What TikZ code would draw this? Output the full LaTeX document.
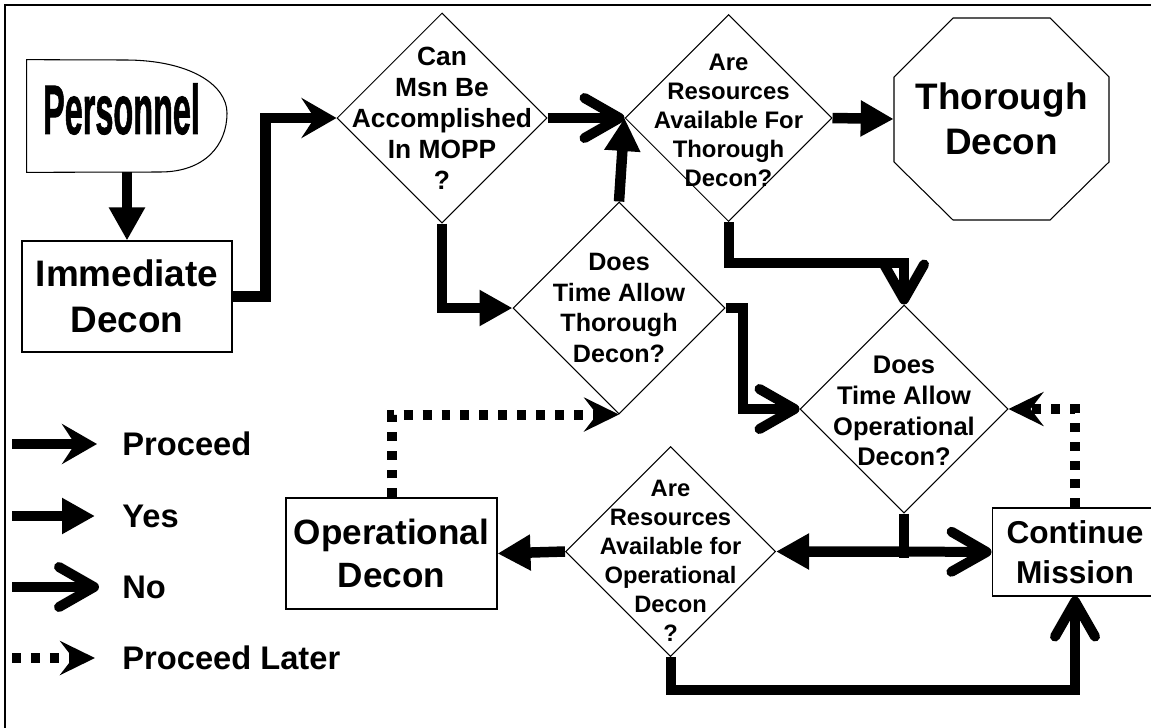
\documentclass[tikz,border=0pt]{standalone}
\usepackage{fontspec}
\setmainfont{Liberation Sans}
\newfontfamily\persfont{Liberation Sans}[BoldFeatures={FakeBold=1.5}]
\usepackage{graphicx}
\usepackage{tikz}
\usetikzlibrary{shapes.geometric,arrows.meta}

\tikzset{
  box/.style={draw, line width=0.6pt, rectangle, inner sep=0pt, align=center},
  decide/.style={draw, line width=0.6pt, diamond, aspect=1, minimum width=4.2cm, minimum height=4.2cm, inner sep=0pt},
  qtext/.style={align=center, inner sep=0pt, font=\bfseries\fontsize{13.6}{16.5}\selectfont},
  pname/.style={inner sep=0pt, font=\persfont\bfseries\fontsize{39.7}{40}\selectfont},
  legend/.style={inner sep=0pt, anchor=west, font=\bfseries\fontsize{18.6}{20}\selectfont},
  yes/.style={line width=0.21cm, -{Triangle[length=0.66cm, width=0.68cm]}},
  no/.style={line width=0.2cm, -{Straight Barb[length=0.7cm, width=0.8cm, round]}},
  proceed/.style={line width=0.21cm, -{Stealth[length=0.7cm, width=0.8cm, inset=0.26cm]}},
  later/.style={line width=0.2cm, dash pattern=on 0.18cm off 0.2cm, -{Stealth[length=0.7cm, width=0.68cm, inset=0.26cm]}}
}

\begin{document}
\begin{tikzpicture}[x=0.02cm, y=-0.02cm]
\useasboundingbox (0,0) rectangle (1151,727);

% frame (only top and left show)
\draw[line width=0.04cm] (5,760) -- (5,5) -- (1180,5);

%% start and boxes
\path
(127,116) node[minimum width=4cm, minimum height=2.24cm, inner sep=0pt,
  label={[pname, xshift=-0.11cm, yshift=0.14cm]center:\scalebox{0.465}[1]{Personnel}}](pers){}
(127,296.5) node[box, minimum width=4.2cm, minimum height=2.22cm,
  font=\bfseries\fontsize{21}{26}\selectfont](imm){Immediate\\Decon}
(1001.5,119) node[minimum width=4.3cm, minimum height=4.04cm, inner sep=0pt,
  align=center, font=\bfseries\fontsize{21}{25.5}\selectfont](thordecon){Thorough\\Decon}
(391.5,553.5) node[box, minimum width=4.22cm, minimum height=2.22cm,
  font=\bfseries\fontsize{20}{24.5}\selectfont](opdecon){Operational\\Decon}
(1075,552) node[box, minimum width=3.32cm, minimum height=1.76cm,
  font=\bfseries\fontsize{18}{22.5}\selectfont](contmis){Continue\\Mission};

\draw[line width=0.6pt] (pers.north west) -- (125,60) .. controls (190,60) and (227,85) .. (227,113)
  .. controls (227,145) and (205,172) .. (160,172) -- (pers.south west) -- cycle;
% octagon round Thorough Decon
\draw[line width=0.6pt] (894,77) -- (953,18) -- (1050,18) -- (1109,77)
  -- (1109,162) -- (1050,220) -- (953,220) -- (894,162) -- cycle;

%% the questions
\path
(442,118) node[decide, label={[qtext, font=\bfseries\fontsize{15}{17.6}\selectfont]center:Can\\Msn Be\\Accomplished\\In MOPP\\?}](canmsn){}
(728.5,118) node[decide, minimum width=4.14cm, minimum height=4.14cm,
  label={[qtext, yshift=-0.04cm]center:Are\\Resources\\Available For\\Thorough\\Decon?}](resthor){}
(619,308) node[decide, minimum width=4.24cm, minimum height=4.24cm,
  label={[qtext, font=\bfseries\fontsize{14.3}{17.5}\selectfont]center:Does\\Time Allow\\Thorough\\Decon?}](timethor){}
(904,409) node[decide, minimum width=4.16cm, minimum height=4.16cm,
  label={[qtext, yshift=-0.04cm, font=\bfseries\fontsize{14.5}{17.5}\selectfont]center:Does\\Time Allow\\Operational\\Decon?}](timeop){}
(670.5,551.5) node[decide,
  label={[qtext, yshift=-0.18cm, font=\bfseries\fontsize{13.5}{16.5}\selectfont]center:Are\\Resources\\Available for\\Operational\\Decon\\?}](resop){};

%% connectors
\draw[yes] (pers.south) -- (imm.north);
\draw[proceed] (imm.east) -- ++(33,0) |- (canmsn.west);
\draw[no] (canmsn.east) -- (resthor.west);
\draw[yes] (canmsn.south) |- (timethor.west);
\draw[yes] (timethor.north) -- (resthor.west);
\draw[yes] (resthor.east) -- (thordecon.west);
\draw[no] (resthor.south) -- ++(0,41) -| (timeop.north);
\draw[no] (timethor.east) -- ++(17,0) |- (timeop.west);

\draw[line width=0.21cm] (timeop.south) -- ++(0,44);
\path (timeop.south) -- ++(0,38) coordinate (split);
\draw[yes] (split) -- (resop.east);
\draw[no] (split) -- (contmis.west);

\draw[yes] (resop.west) -- (opdecon.east);
\draw[no] (resop.south) -- ++(0,33) -| (contmis.south);

%% proceed later
\draw[later] (opdecon.north) |- (timethor.south);
\draw[later] (contmis.north) |- (timeop.east);

%% legend
\coordinate (lg1) at (12,444);
\coordinate (lg2) at (12,516);
\coordinate (lg3) at (12,587);
\coordinate (lg4) at (12,658);
\path
(122,444) node[legend](lgproceed){Proceed}
(122,516) node[legend](lgyes){Yes}
(122,587) node[legend](lgno){No}
(122,658) node[legend](lglater){Proceed Later};
\draw[proceed, shorten >=0.5cm] (lg1) -- (lgproceed.west);
\draw[yes, shorten >=0.54cm] (lg2) -- (lgyes.west);
\draw[no, shorten >=0.46cm] (lg3) -- (lgno.west);
\draw[later, shorten >=0.54cm] (lg4) -- (lglater.west);

\end{tikzpicture}
\end{document}
